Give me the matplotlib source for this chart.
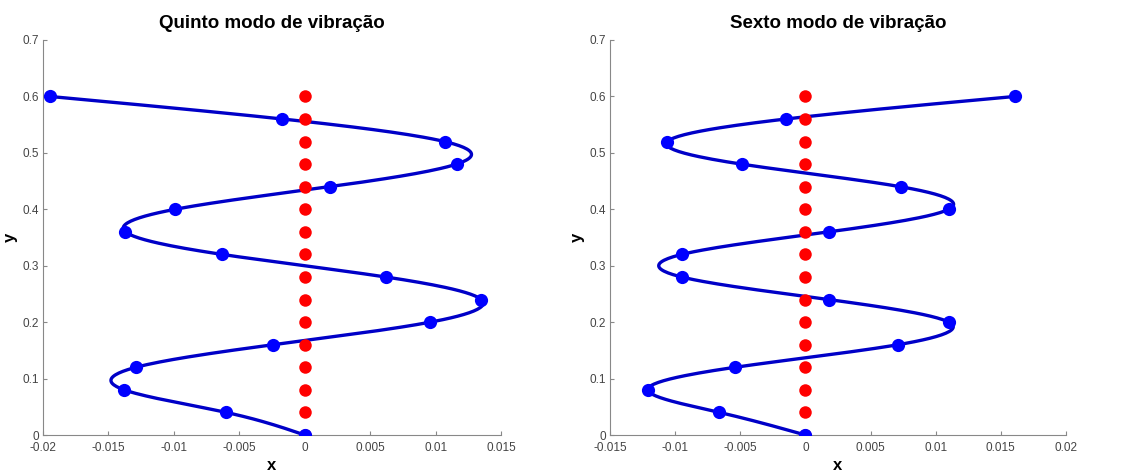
import matplotlib
matplotlib.use("Agg")
import matplotlib.pyplot as plt
import numpy as np

# altura dos nós (comum aos dois modos)
y_nos = [0.0, 0.04, 0.08, 0.12, 0.16, 0.20, 0.24, 0.28, 0.32,
         0.36, 0.40, 0.44, 0.48, 0.52, 0.56, 0.60]

# deslocamentos
x_modo5 = [0.0, -0.0060, -0.0138, -0.0129, -0.0024, 0.0096, 0.0135, 0.0062,
           -0.0063, -0.0137, -0.0099, 0.0019, 0.0116, 0.0107, -0.0017, -0.0195]
x_modo6 = [0.0, -0.0066, -0.0121, -0.0054, 0.0071, 0.0110, 0.0018, -0.0095,
           -0.0095, 0.0018, 0.0110, 0.0073, -0.0049, -0.0106, -0.0015, 0.0161]

titulos = ["Quinto modo de vibração", "Sexto modo de vibração"]
xlims = [(-0.02, 0.015), (-0.015, 0.02)]
xticks = [[-0.02, -0.015, -0.01, -0.005, 0, 0.005, 0.01, 0.015],
          [-0.015, -0.01, -0.005, 0, 0.005, 0.01, 0.015, 0.02]]
yticks = [0, 0.1, 0.2, 0.3, 0.4, 0.5, 0.6, 0.7]


def spline(t, v, n=400):
	# spline cúbica natural x(y) pelos nós
	t = np.asarray(t, float)
	v = np.asarray(v, float)
	m = len(t)
	h = np.diff(t)
	A = np.zeros((m, m))
	b = np.zeros(m)
	A[0, 0] = A[-1, -1] = 1
	for i in range(1, m - 1):
		A[i, i - 1] = h[i - 1]
		A[i, i] = 2 * (h[i - 1] + h[i])
		A[i, i + 1] = h[i]
		b[i] = 6 * ((v[i + 1] - v[i]) / h[i] - (v[i] - v[i - 1]) / h[i - 1])
	M = np.linalg.solve(A, b)
	tt = np.linspace(t[0], t[-1], n)
	k = np.clip(np.searchsorted(t, tt) - 1, 0, m - 2)
	a = t[k + 1] - tt
	c = tt - t[k]
	hk = h[k]
	vv = (M[k] * a**3 + M[k + 1] * c**3) / (6 * hk) \
		+ (v[k] / hk - M[k] * hk / 6) * a + (v[k + 1] / hk - M[k + 1] * hk / 6) * c
	return vv, tt


def fmt(v):
	return "0" if v == 0 else "%g" % v


plt.rcParams['font.family'] = ['Liberation Sans', 'DejaVu Sans']
fig = plt.figure(figsize=(11.34, 4.72), dpi=100)
posicoes = [[43/1134, 37/472, 458/1134, 395/472],
            [610/1134, 37/472, 456/1134, 395/472]]

for pos, xs, tit, xl, xt in zip(posicoes, [x_modo5, x_modo6], titulos, xlims, xticks):
	ax = fig.add_axes(pos)
	cx, cy = spline(y_nos, xs)
	ax.plot(cx, cy, color=(0.0, 0.0, 0.78), lw=2.4, zorder=2)
	ax.plot(np.zeros(len(y_nos)), y_nos, 'o', color=(1, 0, 0), ms=9, mec='none', zorder=3)
	ax.plot(xs, y_nos, 'o', color=(0, 0, 1), ms=9.5, mec='none', zorder=4)
	ax.set_xlim(xl)
	ax.set_ylim(0, 0.7)
	ax.set_xticks(xt)
	ax.set_xticklabels([fmt(v) for v in xt])
	ax.set_yticks(yticks)
	ax.set_yticklabels([fmt(v) for v in yticks])
	for s in ['top', 'right']:
		ax.spines[s].set_visible(False)
	for s in ['left', 'bottom']:
		ax.spines[s].set_color('#888888')
	ax.tick_params(direction='in', length=3, color='#888888', labelsize=8.5,
	               labelcolor='#444444')
	ax.tick_params(axis='x', pad=5)
	ax.tick_params(axis='y', pad=3)
	ax.set_title(tit, fontsize=13.5, fontweight='bold', pad=9)
	ax.set_xlabel('x', fontsize=12, fontweight='bold', labelpad=3)
	ax.set_ylabel('y', fontsize=12, fontweight='bold', labelpad=3)
	ax.patch.set_alpha(0)

fig.savefig('out.png', dpi=100)
